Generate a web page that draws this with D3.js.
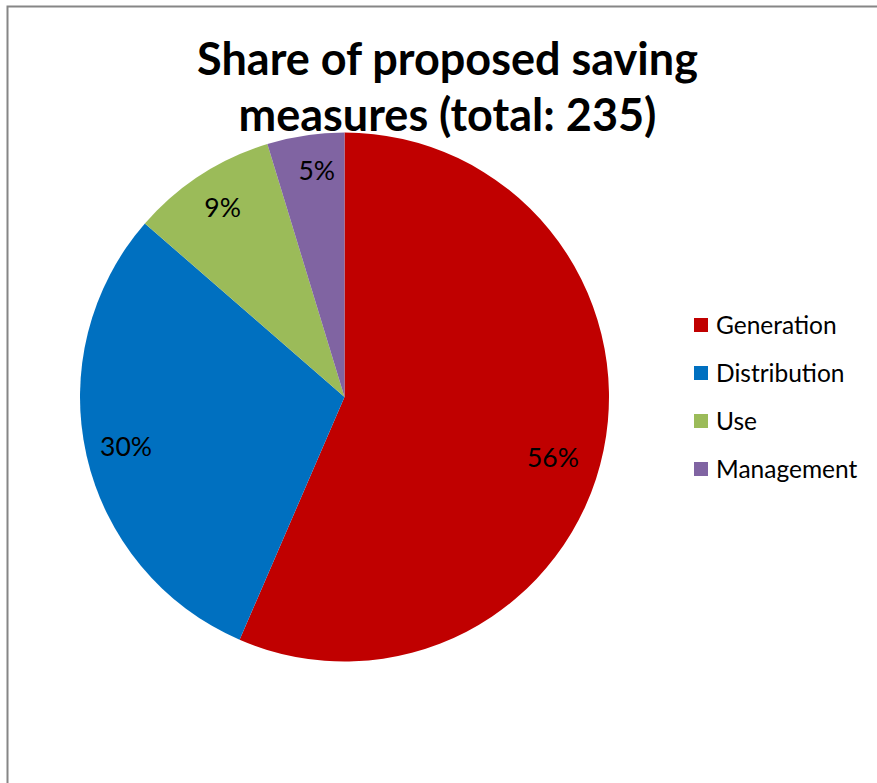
<!DOCTYPE html>
<html>
<head>
<meta charset="utf-8">
<script src="https://cdn.jsdelivr.net/npm/d3@7"></script>
<style>
  html, body { margin: 0; padding: 0; background: #fff; overflow: hidden; }
  svg { display: block; }
</style>
</head>
<body>
<svg id="chart" width="877" height="783"></svg>
<script>
// Share of proposed saving measures, in percent of the 235 measures
const categories = ["Generation", "Distribution", "Use", "Management"];
const shares = [56.49, 29.9, 8.9, 4.71];
const colors = ["#C00000", "#0070C0", "#9BBB59", "#8064A2"];
const titleLines = ["Share of proposed saving", "measures (total: 235)"];

const svg = d3.select("#chart");
const font = "Lato, 'Open Sans', sans-serif";

// chart frame
svg.append("rect")
  .attr("x", 7.5).attr("y", 6.5)
  .attr("width", 900).attr("height", 900)
  .attr("fill", "#fff")
  .attr("stroke", "#868686").attr("stroke-width", 2);

// title
svg.append("g").selectAll("text")
  .data(titleLines)
  .join("text")
  .attr("x", 447.5)
  .attr("y", (d, i) => 75 + i * 56)
  .attr("text-anchor", "middle")
  .attr("font-family", font)
  .attr("font-weight", 700)
  .attr("font-size", 45)
  .attr("fill", "#000")
  .text(d => d);

// pie
const cx = 344.5, cy = 397, r = 264.5;
const data = categories.map((c, i) => ({ name: c, value: shares[i], color: colors[i] }));
const total = d3.sum(shares);
const pie = d3.pie().value(d => d.value).sort(null);
const arcs = pie(data);
const arc = d3.arc().innerRadius(0).outerRadius(r);

const g = svg.append("g").attr("transform", `translate(${cx},${cy})`);
g.selectAll("path")
  .data(arcs)
  .join("path")
  .attr("d", arc)
  .attr("fill", d => d.data.color);

// data labels, placed near the outer edge of each slice
const labelArc = d3.arc().innerRadius(222).outerRadius(222);
const labelNudge = { Generation: [-9, 16], Distribution: [-2, 0], Use: [-1, -3], Management: [5, -7] };
const pct = v => Math.round(v / total * 100) + "%";
g.selectAll("text.lbl")
  .data(arcs)
  .join("text")
  .attr("class", "lbl")
  .attr("transform", d => {
    const [x, y] = labelArc.centroid(d);
    const n = labelNudge[d.data.name];
    return `translate(${x + n[0]},${y + n[1]})`;
  })
  .attr("text-anchor", "middle")
  .attr("dy", "0.35em")
  .attr("font-family", font)
  .attr("font-size", 26.5)
  .attr("fill", "#000")
  .text(d => pct(d.data.value));

// legend
const legendY = d3.scalePoint().domain(categories).range([325, 469]);
const lg = svg.append("g");
const item = lg.selectAll("g")
  .data(data)
  .join("g")
  .attr("transform", d => `translate(694,${legendY(d.name)})`);
item.append("rect")
  .attr("x", 0).attr("y", -7)
  .attr("width", 14).attr("height", 14)
  .attr("fill", d => d.color);
item.append("text")
  .attr("x", 22)
  .attr("dy", "0.35em")
  .attr("font-family", font)
  .attr("font-size", 24.5)
  .attr("fill", "#000")
  .text(d => d.name);
</script>
</body>
</html>
